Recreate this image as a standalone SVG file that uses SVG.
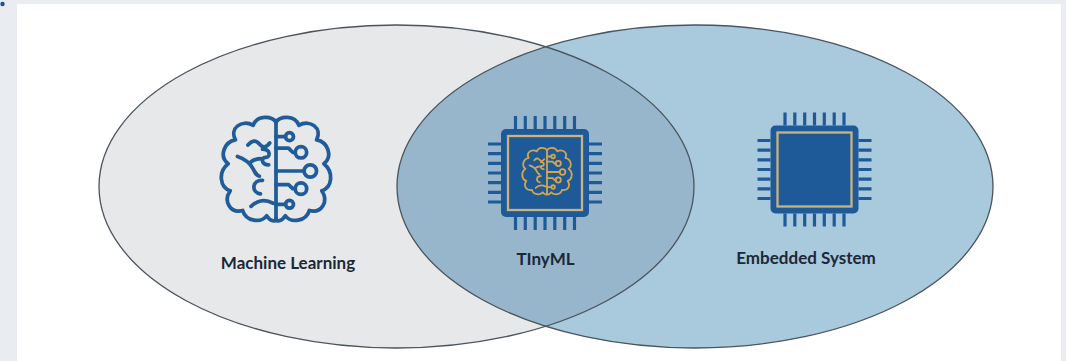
<svg xmlns="http://www.w3.org/2000/svg" xmlns:xlink="http://www.w3.org/1999/xlink" width="1066" height="361" viewBox="0 0 1066 361">
<style>
.label{font-family:Lato,"Open Sans","Liberation Sans",sans-serif;font-weight:700;font-size:17px;fill:#1b2838;text-anchor:middle}
.edge{fill:none;stroke:#4a545d;stroke-width:1.3}
.pin{stroke:#1e5a98;stroke-width:3.2;stroke-linecap:butt}
</style>
<defs>
<clipPath id="clipRight"><ellipse cx="695" cy="186.5" rx="298" ry="161.5"/></clipPath>
<g id="brainHalf">
<path d="M0,-47 C-4,-53 -18,-54 -22,-44 C-33,-50 -45,-41 -39,-30 C-50,-28 -55,-14 -46,-7 C-56,1 -54,16 -44,19 C-51,29 -44,41 -32,38 C-29,49 -14,50 -9,43 C-5,49 0,49 0,46"/>
</g>
<g id="brain" fill="none" stroke-linecap="round" stroke-linejoin="round">
<use xlink:href="#brainHalf"/>
<use xlink:href="#brainHalf" transform="scale(-1,1)"/>
<path d="M0,-47 V46"/>
<path d="M-27,-25 Q-21,-32 -16,-26 T-6,-27"/>
<path d="M-13,-21 C-5,-21 -5,-13 -10,-13 C-15,-13 -14,-6 -7,-6"/>
<path d="M-37,-14 C-31,-12 -25,-8 -22,-2 C-20,2 -19,4 -16,5 M-25,-8 C-22,-11 -18,-12 -14,-12"/>
<path d="M-13,9 C-22,8 -25,20 -15,22"/>
<path d="M-24,34 C-18,28 -10,27 -3,31"/>
<path d="M0,-33 H9 M0,-22 H12 L16,-18 H18.5 M0,0 H27 M0,13 H12 L16,17 H18.5 M0,32 H9"/>
<circle cx="13" cy="-33" r="3.8"/>
<circle cx="24" cy="-18" r="5.5"/>
<circle cx="33" cy="0" r="6"/>
<circle cx="24" cy="17" r="5.5"/>
<circle cx="13" cy="32" r="3.8"/>
</g>
<g id="chip">
<g class="pin">
<path d="M-29.5,-57 V-44 M-19.7,-57 V-44 M-9.8,-57 V-44 M0,-57 V-44 M9.8,-57 V-44 M19.7,-57 V-44 M29.5,-57 V-44"/>
<path d="M-29.5,44 V57 M-19.7,44 V57 M-9.8,44 V57 M0,44 V57 M9.8,44 V57 M19.7,44 V57 M29.5,44 V57"/>
<path d="M-57,-29 H-44 M-57,-19.3 H-44 M-57,-9.7 H-44 M-57,0 H-44 M-57,9.7 H-44 M-57,19.3 H-44 M-57,29 H-44"/>
<path d="M44,-29 H57 M44,-19.3 H57 M44,-9.7 H57 M44,0 H57 M44,9.7 H57 M44,19.3 H57 M44,29 H57"/>
</g>
<rect x="-44" y="-44" width="88" height="88" rx="5" fill="#1e5a98"/>
<rect x="-37" y="-37" width="74" height="74" fill="#1e5a98" stroke="#ccb27f" stroke-width="2.3"/>
</g>
</defs>
<rect width="1066" height="361" fill="#e9ecf1"/>
<rect x="17" y="4" width="1044" height="357" fill="#ffffff"/>
<circle cx="2.5" cy="4" r="2.2" fill="#1f4f8a"/>
<g id="sets">
<ellipse cx="396.5" cy="186.5" rx="297.5" ry="161.5" fill="#e7e8e9"/>
<ellipse cx="695" cy="186.5" rx="298" ry="161.5" fill="#a9c9dd"/>
<ellipse cx="396.5" cy="186.5" rx="297.5" ry="161.5" fill="#98b6cb" clip-path="url(#clipRight)"/>
<ellipse class="edge" cx="396.5" cy="186.5" rx="297.5" ry="161.5"/>
<ellipse class="edge" cx="695" cy="186.5" rx="298" ry="161.5"/>
</g>
<g id="node-machine-learning">
<use xlink:href="#brain" transform="translate(276,171) scale(1.04)" stroke="#1f5c99" stroke-width="3.6"/>
<text class="label" x="288" y="269">Machine Learning</text>
</g>
<g id="node-tinyml">
<use xlink:href="#chip" transform="translate(545,173)"/>
<use xlink:href="#brain" transform="translate(547,172) scale(0.47)" stroke="#d6a64c" stroke-width="3.8"/>
<text class="label" x="545.5" y="265">TInyML</text>
</g>
<g id="node-embedded-system">
<use xlink:href="#chip" transform="translate(814.5,169.5)"/>
<text class="label" x="806" y="264">Embedded System</text>
</g>
</svg>
